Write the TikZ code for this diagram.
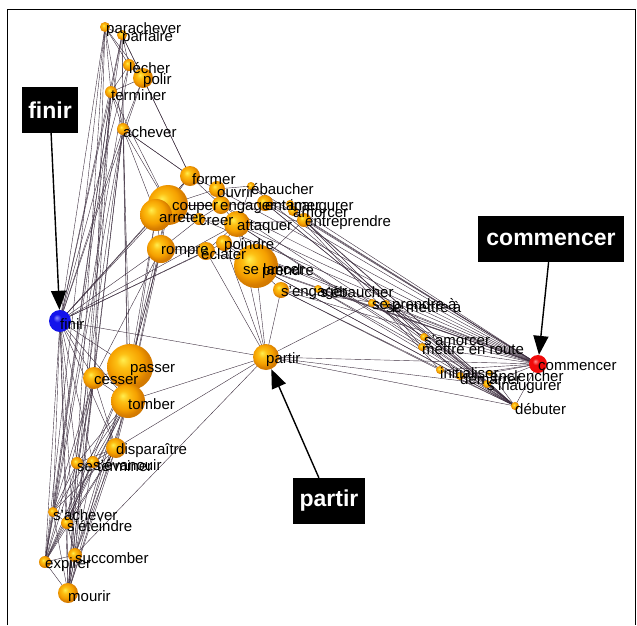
\documentclass[tikz,border=0pt]{standalone}
\usepackage{fontspec}
\setmainfont{Liberation Sans}
\usetikzlibrary{arrows.meta,backgrounds}
\definecolor{linkgrey}{RGB}{60,45,62}
\definecolor{goldA}{RGB}{255,238,80}
\definecolor{goldB}{RGB}{253,192,20}
\definecolor{goldC}{RGB}{245,160,0}
\definecolor{goldD}{RGB}{215,125,0}
\definecolor{goldE}{RGB}{170,95,0}
\definecolor{blueA}{RGB}{140,140,255}
\definecolor{blueB}{RGB}{20,20,235}
\definecolor{blueC}{RGB}{10,10,150}
\definecolor{redA}{RGB}{255,140,140}
\definecolor{redB}{RGB}{240,10,10}
\definecolor{redC}{RGB}{160,0,0}
\pgfdeclareradialshading{goldball}{\pgfqpoint{-8bp}{8bp}}{color(0bp)=(goldA); color(8bp)=(goldB);
	color(18bp)=(goldC); color(25bp)=(goldD); color(50bp)=(goldE)}
\pgfdeclareradialshading{blueball}{\pgfqpoint{-8bp}{8bp}}{color(0bp)=(blueA); color(9bp)=(blueB);
	color(25bp)=(blueB); color(50bp)=(blueC)}
\pgfdeclareradialshading{redball}{\pgfqpoint{-8bp}{8bp}}{color(0bp)=(redA); color(9bp)=(redB);
	color(25bp)=(redB); color(50bp)=(redC)}

\begin{document}
\begin{tikzpicture}
			[
				x                = 1pt,
				y                = -1pt,
				verb/.style      = {circle, inner sep=0, minimum size=#1, shading=goldball},
				lbl/.style       = {anchor=west, inner sep=0, yshift=-3pt, font=\fontsize{15}{16}\selectfont},
				link/.style      = {draw=linkgrey, line width=0.4pt},
				callout/.style   = {fill=black, text=white, inner xsep=5pt, minimum height=46pt,
				                    font=\bfseries\fontsize{23}{24}\selectfont},
				pointer/.style   = {draw, line width=1.4pt, -{Triangle[width=15pt,length=19pt]}}
			]
			\useasboundingbox (0,0) rectangle (637,625);
			\draw[line width=0.8pt] (7,625) -- (7,9) -- (635,9) -- (635,625);

			% finir side
			\node[verb=22, shading=blueball] (fin) at (60,321) {};
			\node[verb=10] (pch) at (105,27) {};
			\node[verb=10] (pfr) at (122,35) {};
			\node[verb=12] (lec) at (129,65) {};
			\node[verb=20] (pol) at (143,78) {};
			\node[verb=12] (ter) at (111,92) {};
			\node[verb=12] (ach) at (123,129) {};
			\node[verb=46] (pas) at (130,367) {};
			\node[verb=22] (ces) at (94,378) {};
			\node[verb=34] (tom) at (128,401) {};
			\node[verb=20] (dis) at (116,448) {};
			\node[verb=12] (ste) at (77,463) {};
			\node[verb=12] (sev) at (93,462) {};
			\node[verb=10] (sac) at (53,512) {};
			\node[verb=12] (set) at (67,523) {};
			\node[verb=14] (suc) at (75,555) {};
			\node[verb=12] (exp) at (45,562) {};
			\node[verb=20] (mou) at (68,593) {};

			% middle
			\node[verb=20] (frm) at (190,176) {};
			\node[verb=16] (ouv) at (217,189) {};
			\node[verb=8]  (eba) at (251,186) {};
			\node[verb=40] (cou) at (168,205) {};
			\node[verb=32] (arr) at (156,215) {};
			\node[verb=18] (eng) at (221,205) {};
			\node[verb=12] (cre) at (199,219) {};
			\node[verb=16] (ent) at (265,203) {};
			\node[verb=8]  (ina) at (290,204) {};
			\node[verb=10] (amo) at (293,211) {};
			\node[verb=14] (epr) at (304,220) {};
			\node[verb=26] (att) at (237,224) {};
			\node[verb=28] (rom) at (161,249) {};
			\node[verb=16] (poi) at (224,243) {};
			\node[verb=18] (ecl) at (206,251) {};
			\node[verb=8]  (pre) at (262,269) {};
			\node[verb=44] (sla) at (256,266) {};
			\node[verb=16] (seg) at (281,290) {};
			\node[verb=8]  (seb) at (318,289) {};
			\node[verb=26] (par) at (266,357) {};

			% commencer side
			\node[verb=18, shading=redball] (com) at (538,364) {};
			\node[verb=8] (spa) at (372,303) {};
			\node[verb=8] (sma) at (386,304) {};
			\node[verb=8] (sam) at (424,337) {};
			\node[verb=8] (mer) at (422,347) {};
			\node[verb=8] (ini) at (440,370) {};
			\node[verb=8] (dem) at (460,376) {};
			\node[verb=6] (enc) at (490,373) {};
			\node[verb=8] (sin) at (487,384) {};
			\node[verb=8] (deb) at (515,406) {};

			% words
			\foreach \n/\t/\dx in {fin/finir/0, pch/parachever/1, pfr/parfaire/0, lec/lécher/0, pol/polir/0,
				ter/terminer/0, ach/achever/0, pas/passer/0, ces/cesser/0, tom/tomber/0, dis/disparaître/0,
				ste/se terminer/0, sev/s'évanouir/0, sac/s'achever/0, set/s'éteindre/0, suc/succomber/0,
				exp/expirer/0, mou/mourir/0, frm/former/2, ouv/ouvrir/0, eba/ébaucher/0, cou/couper/4,
				arr/arreter/3, eng/engager/-1, cre/creer/0, ent/entamer/0, ina/inaugurer/0, amo/amorcer/0,
				epr/entreprendre/1, att/attaquer/0, rom/rompre/0, poi/poindre/0, ecl/éclater/-5,
				pre/prendre/0, sla/se lancer/-13, seg/s'engager/0, seb/s'ébaucher/2, par/partir/0,
				com/commencer/0, spa/se prendre à/0, sma/se mettre à/0, sam/s'amorcer/0,
				mer/mettre en route/0, ini/initialiser/0, dem/démarrer/0, enc/enclencher/0,
				sin/s'inaugurer/0, deb/débuter/0}
				\node[lbl, xshift=\dx pt] (\n-lab) at (\n.center) {\t};

			\begin{pgfonlayer}{background}
				\foreach \a/\b in {pch/pfr, pch/lec, pch/pol, pch/ter, pch/ach, pch/fin, pch/exp, pch/mou, pch/ces,
					pfr/lec, pfr/pol, pfr/ter, pfr/ach, pfr/fin, pfr/frm, pfr/sac, pfr/tom,
					lec/pol, lec/ter, lec/fin, lec/exp, pol/ter, pol/frm, pol/ach, pol/fin,
					ter/ach, ter/fin, ter/exp, ter/mou, ter/ces, ter/suc, ter/sac, ter/cou,
					ach/fin, ach/mou, ach/exp, ach/cou, ach/arr, ach/ces, ach/pas, ach/set, ach/tom, ach/frm,
					fin/pas, fin/ces, fin/tom, fin/dis, fin/ste, fin/sev, fin/sac, fin/set, fin/suc,
					fin/exp, fin/mou, fin/arr, fin/cou, fin/rom, fin/par, fin/frm, fin/ecl, fin/att, fin/poi,
					ces/tom, ces/pas, ces/dis, ces/sac, ces/set, ces/exp, ces/mou, ces/ste, ces/suc, ces/rom,
					tom/pas, tom/dis, tom/ste, tom/sev, tom/sac, tom/set, tom/suc, tom/exp, tom/mou, tom/arr,
					pas/dis, pas/mou, pas/set, pas/rom, pas/arr, pas/exp, pas/suc,
					dis/ste, dis/sev, dis/set, dis/suc, dis/mou, dis/exp, dis/sac, dis/par,
					ste/sac, ste/exp, ste/mou, sev/set, sev/mou, sev/exp, sac/set, sac/exp, sac/mou,
					set/exp, set/mou, set/suc, suc/mou, suc/exp, exp/mou,
					par/com, par/deb, par/sin, par/spa, par/sla, par/att, par/ecl, par/poi,
					par/tom, par/suc, par/seg,
					cou/arr, cou/frm, cou/eng, cou/rom, cou/cre, cou/ouv, cou/tom, cou/pas,
					arr/rom, arr/cre, arr/frm, arr/att, rom/cre, rom/ecl, rom/pas, rom/tom,
					frm/ouv, frm/eng, frm/ach, ouv/eba, ouv/eng, eng/ent, eng/att, eng/cre,
					ent/amo, ent/ina, att/ecl, att/sla, att/poi, sla/poi, sla/seg, sla/pre, sla/ecl,
					epr/sla, epr/att, eba/att,
					eba/com, ouv/com, eng/com, ent/com, ina/com, amo/com, epr/com, att/com, sla/com,
					pre/com, seg/com, seb/com, spa/com, sma/com, sam/com, mer/com, ini/com,
					dem/com, enc/com, sin/com, deb/com, cou/com, poi/com,
					eba/deb, ent/deb, amo/deb, epr/deb, att/deb, sla/deb, seg/deb, seb/deb,
					spa/deb, sma/deb, sam/deb, mer/deb, ini/deb, dem/deb, sin/deb, enc/deb,
					ent/sin, amo/ini, epr/dem, seg/ini, sla/dem, seb/mer, spa/sam, sma/mer,
					att/sin, seg/sma, eng/sam, poi/spa}
					\draw[link] (\a.center) -- (\b.center);
			\end{pgfonlayer}

			% callouts
			\node[callout, minimum width=56pt]  (finbox) at (50,110)  {finir};
			\node[callout, minimum width=146pt] (combox) at (551,239) {commencer};
			\node[callout, minimum width=72pt]  (parbox) at (329,501) {partir};
			\draw[pointer] (finbox) -- (fin);
			\draw[pointer] (combox) -- (com);
			\draw[pointer] (parbox) -- (par);
		\end{tikzpicture}
\end{document}
